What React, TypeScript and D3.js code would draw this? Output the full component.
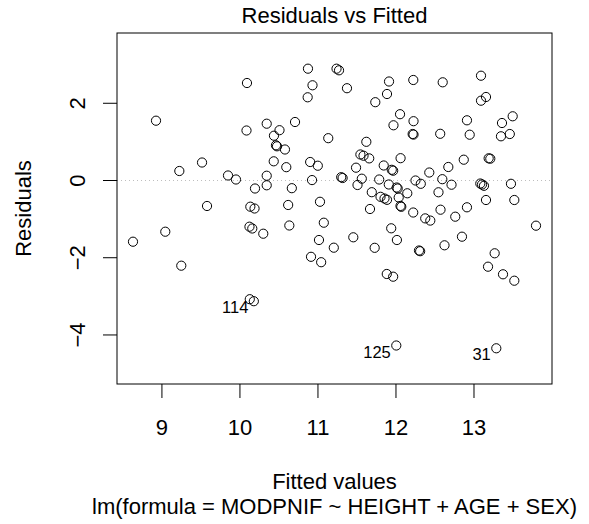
import React from "react";
import * as d3 from "d3";

const fitted: number[] = [
  8.629, 8.924, 9.043, 9.223, 9.248, 9.514, 9.578, 9.847, 9.949, 10.090,
  10.084, 10.133, 10.187, 10.122, 10.158, 10.126, 10.178, 10.193, 10.299, 10.343,
  10.343, 10.343, 10.433, 10.507, 10.436, 10.462, 10.475, 10.577, 10.706, 10.594,
  10.665, 10.618, 10.633, 10.872, 11.238, 11.270, 10.930, 10.868, 11.372, 11.132,
  10.900, 10.998, 10.924, 11.026, 11.075, 11.013, 11.203, 10.911, 11.041, 11.298,
  11.316, 11.453, 11.488, 11.562, 11.507, 11.544, 11.584, 11.657, 11.620, 11.735,
  11.885, 11.911, 11.785, 11.843, 11.946, 11.964, 12.059, 12.052, 11.968, 11.908,
  12.009, 12.022, 11.690, 11.802, 11.853, 11.885, 12.035, 12.058, 12.068, 11.667,
  11.939, 12.012, 11.727, 11.882, 11.964, 12.004, 12.145, 12.222, 12.225, 12.214,
  12.225, 12.250, 12.318, 12.221, 12.375, 12.440, 12.295, 12.310, 12.427, 12.545,
  12.571, 12.599, 12.567, 12.594, 12.671, 12.712, 12.760, 12.622, 12.869, 12.910,
  12.945, 12.910, 12.846, 13.090, 13.090, 13.154, 13.188, 13.209, 13.081, 13.103,
  13.128, 13.154, 13.180, 13.265, 13.372, 13.517, 13.286, 13.359, 13.496, 13.346,
  13.459, 13.474, 13.517, 13.795,
];

const residuals: number[] = [
  -1.585, 1.549, -1.326, 0.246, -2.206, 0.466, -0.660, 0.130, 0.026, 2.525,
  1.295, -0.678, -0.725, -1.196, -1.243, -3.074, -3.126, -0.207, -1.378, 1.471,
  0.124, -0.124, 0.497, 1.303, 1.160, 0.912, 0.886, 0.803, 1.515, 0.345,
  -0.199, -0.634, -1.165, 2.896, 2.896, 2.854, 2.466, 2.155, 2.390, 1.096,
  0.479, 0.383, 0.011, -0.551, -1.093, -1.541, -1.740, -1.976, -2.116, 0.086,
  0.065, -1.471, 0.332, 0.047, -0.116, 0.674, 0.642, 0.573, 1.002, 2.028,
  2.240, 2.564, 0.026, 0.389, 0.277, 0.254, 0.578, 1.717, 1.430, -0.103,
  -0.181, -0.207, -0.303, -0.422, -0.466, -0.500, -0.440, -0.658, -0.681, -0.738,
  -1.238, -1.541, -1.743, -2.421, -2.491, -4.273, -0.331, 2.603, 1.536, 1.204,
  1.189, 0.000, -0.085, -0.829, -0.981, -1.038, -1.813, -1.831, 0.207, -0.305,
  -0.756, 2.543, 1.210, 0.034, 0.350, -0.109, -0.937, -1.678, 0.539, 1.559,
  1.186, -0.694, -1.455, 2.714, 2.067, 2.163, 0.575, 0.565, -0.078, -0.103,
  -0.137, -0.505, -2.232, -1.885, -2.429, -2.595, -4.345, 1.489, 1.663, 1.145,
  1.204, -0.085, -0.505, -1.170,
];

const idIndex: number[] = [16, 85, 126];
const idLabels: string[] = ["114", "125", "31"];

const xTicks: number[] = [9, 10, 11, 12, 13];
const yTicks: number[] = [-4, -2, 0, 2];

const titleText = "Residuals vs Fitted";
const xLabel = "Fitted values";
const yLabel = "Residuals";
const subCaption = "lm(formula = MODPNIF ~ HEIGHT + AGE + SEX)";

const W = 589;
const H = 524;
const left = 117;
const right = 552;
const top = 33;
const bottom = 384;
const font = "'Liberation Sans', Arial, Helvetica, sans-serif";
const fs = 22;

const fmt = (v: number) => (v < 0 ? "\u2212" + Math.abs(v) : String(v));

export default function App() {
  const x = d3.scaleLinear().domain([8.424, 14.0]).range([left, right]);
  const y = d3.scaleLinear().domain([-5.27, 3.82]).range([bottom, top]);
  const cx = (left + right) / 2;
  const cy = (top + bottom) / 2;

  return (
    <svg
      width={W}
      height={H}
      style={{ position: "absolute", left: 0, top: 0, background: "#fff" }}
      fontFamily={font}
    >
      <rect x={0} y={0} width={W} height={H} fill="#fff" />
      <line
        x1={left}
        x2={right}
        y1={y(0)}
        y2={y(0)}
        stroke="#BEBEBE"
        strokeWidth={1}
        strokeDasharray="1,3"
      />
      {fitted.map((f, i) => (
        <circle
          key={i}
          cx={x(f)}
          cy={y(residuals[i])}
          r={4.6}
          fill="none"
          stroke="#000"
          strokeWidth={1}
        />
      ))}
      {idIndex.map((k, j) => (
        <text
          key={"id" + j}
          x={x(fitted[k]) - 5.5}
          y={y(residuals[k]) + 12}
          textAnchor="end"
          fontSize={16.5}
        >
          {idLabels[j]}
        </text>
      ))}
      <rect
        x={left}
        y={top}
        width={right - left}
        height={bottom - top}
        fill="none"
        stroke="#000"
        strokeWidth={1}
      />
      {xTicks.map((t) => (
        <g key={"xt" + t}>
          <line x1={x(t)} x2={x(t)} y1={bottom} y2={bottom + 14} stroke="#000" />
          <text x={x(t)} y={435} textAnchor="middle" fontSize={fs}>
            {fmt(t)}
          </text>
        </g>
      ))}
      {yTicks.map((t) => (
        <g key={"yt" + t}>
          <line x1={left - 14} x2={left} y1={y(t)} y2={y(t)} stroke="#000" />
          <text
            transform={`translate(85,${y(t)}) rotate(-90)`}
            textAnchor="middle"
            fontSize={fs}
          >
            {fmt(t)}
          </text>
        </g>
      ))}
      <text x={cx} y={23} textAnchor="middle" fontSize={fs}>
        {titleText}
      </text>
      <text x={cx} y={489} textAnchor="middle" fontSize={fs}>
        {xLabel}
      </text>
      <text x={cx} y={514} textAnchor="middle" fontSize={fs}>
        {subCaption}
      </text>
      <text
        transform={`translate(31,${cy}) rotate(-90)`}
        textAnchor="middle"
        fontSize={fs}
      >
        {yLabel}
      </text>
    </svg>
  );
}
